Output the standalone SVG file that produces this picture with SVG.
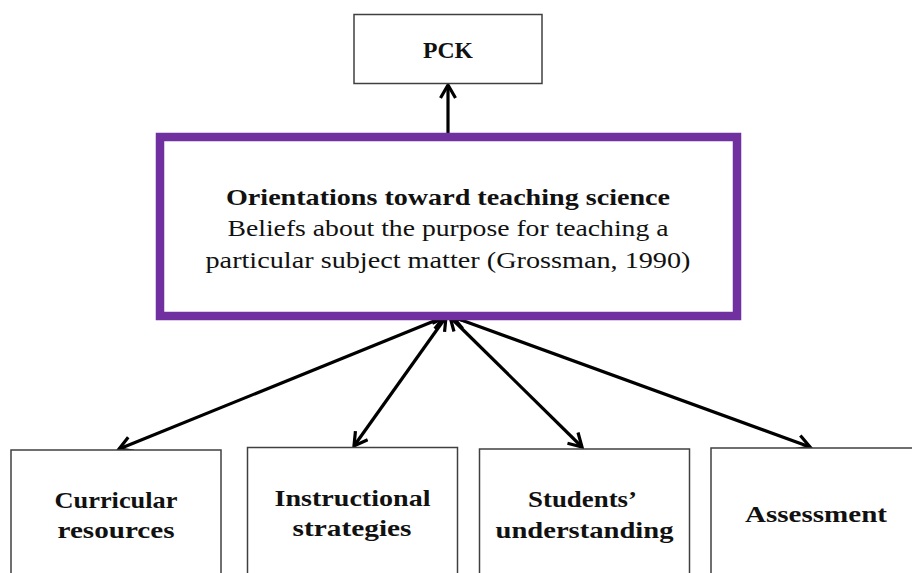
<svg xmlns="http://www.w3.org/2000/svg" width="912" height="573" viewBox="0 0 912 573">
<style>
.box{fill:#fff;stroke:#404040;stroke-width:1.5}
.main{fill:#fff;stroke:#7030A0;stroke-width:8.5}
.t{font-family:"Liberation Serif","Times New Roman",serif;fill:#111;text-anchor:middle}
.b{font-weight:bold;font-size:24px}
.r{font-size:23px}
.c{fill:none;stroke:#000;stroke-width:3.2}
</style>
<defs>
<marker id="ah" markerUnits="userSpaceOnUse" viewBox="0 0 18 18" markerWidth="18" markerHeight="18" refX="15" refY="9" orient="auto-start-reverse">
<path d="M2 1.5 L15 9 L2 16.5" fill="none" stroke="#000" stroke-width="3.2" stroke-linejoin="miter"/>
</marker>
</defs>
<rect width="912" height="573" fill="#fff"/>
<g id="connectors">
<line class="c" x1="448" y1="133" x2="448" y2="85" marker-end="url(#ah)"/>
<line class="c" x1="444" y1="317" x2="119" y2="449" marker-start="url(#ah)" marker-end="url(#ah)"/>
<line class="c" x1="446" y1="317" x2="354" y2="446" marker-start="url(#ah)" marker-end="url(#ah)"/>
<line class="c" x1="450" y1="317" x2="582" y2="447" marker-start="url(#ah)" marker-end="url(#ah)"/>
<line class="c" x1="453" y1="317" x2="810" y2="447" marker-start="url(#ah)" marker-end="url(#ah)"/>
</g>
<g id="pck">
<rect class="box" x="354" y="14.5" width="188" height="69"/>
<text class="t b" x="448" y="58" textLength="50" lengthAdjust="spacingAndGlyphs">PCK</text>
</g>
<g id="orientations">
<rect class="main" x="160" y="137" width="577" height="179"/>
<text class="t b" x="448" y="205" textLength="444" lengthAdjust="spacingAndGlyphs">Orientations toward teaching science</text>
<text class="t r" x="448" y="236" textLength="441" lengthAdjust="spacingAndGlyphs">Beliefs about the purpose for teaching a</text>
<text class="t r" x="448" y="268" textLength="485" lengthAdjust="spacingAndGlyphs">particular subject matter (Grossman, 1990)</text>
</g>
<g id="curricular">
<rect class="box" x="11" y="450" width="210" height="140"/>
<text class="t b" x="116" y="508" textLength="123" lengthAdjust="spacingAndGlyphs">Curricular</text>
<text class="t b" x="116" y="538" textLength="117" lengthAdjust="spacingAndGlyphs">resources</text>
</g>
<g id="instructional">
<rect class="box" x="247.5" y="447.5" width="210" height="140"/>
<text class="t b" x="352.5" y="506" textLength="156" lengthAdjust="spacingAndGlyphs">Instructional</text>
<text class="t b" x="352" y="536" textLength="119" lengthAdjust="spacingAndGlyphs">strategies</text>
</g>
<g id="students">
<rect class="box" x="479.5" y="449" width="210" height="140"/>
<text class="t b" x="582.5" y="506.5" textLength="109" lengthAdjust="spacingAndGlyphs">Students’</text>
<text class="t b" x="584.5" y="538" textLength="178" lengthAdjust="spacingAndGlyphs">understanding</text>
</g>
<g id="assessment">
<rect class="box" x="711" y="448" width="210" height="140"/>
<text class="t b" x="816" y="521.5" textLength="142" lengthAdjust="spacingAndGlyphs">Assessment</text>
</g>
</svg>
